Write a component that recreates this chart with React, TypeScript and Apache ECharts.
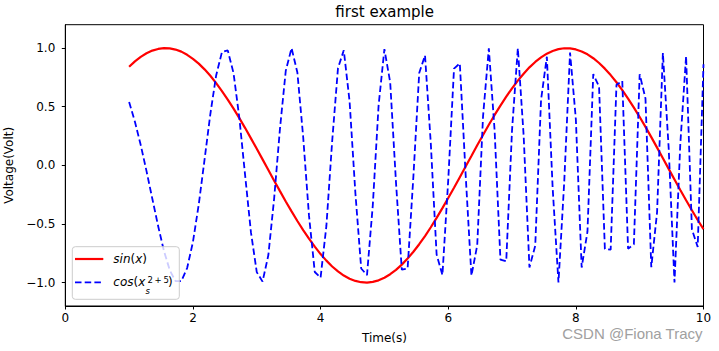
import React, { useEffect, useRef } from "react";
import * as echarts from "echarts";

// Time samples (s)
const timeValues = [
  1.0, 1.0909, 1.1818, 1.2727, 1.3636, 1.4545, 1.5455, 1.6364, 1.7273, 1.8182,
  1.9091, 2.0, 2.0909, 2.1818, 2.2727, 2.3636, 2.4545, 2.5455, 2.6364, 2.7273,
  2.8182, 2.9091, 3.0, 3.0909, 3.1818, 3.2727, 3.3636, 3.4545, 3.5455, 3.6364,
  3.7273, 3.8182, 3.9091, 4.0, 4.0909, 4.1818, 4.2727, 4.3636, 4.4545, 4.5455,
  4.6364, 4.7273, 4.8182, 4.9091, 5.0, 5.0909, 5.1818, 5.2727, 5.3636, 5.4545,
  5.5455, 5.6364, 5.7273, 5.8182, 5.9091, 6.0, 6.0909, 6.1818, 6.2727, 6.3636,
  6.4545, 6.5455, 6.6364, 6.7273, 6.8182, 6.9091, 7.0, 7.0909, 7.1818, 7.2727,
  7.3636, 7.4545, 7.5455, 7.6364, 7.7273, 7.8182, 7.9091, 8.0, 8.0909, 8.1818,
  8.2727, 8.3636, 8.4545, 8.5455, 8.6364, 8.7273, 8.8182, 8.9091, 9.0, 9.0909,
  9.1818, 9.2727, 9.3636, 9.4545, 9.5455, 9.6364, 9.7273, 9.8182, 9.9091, 10.0,
];

// Red solid curve: sin(x)
const sinValues = [
  0.841, 0.887, 0.925, 0.956, 0.979, 0.993, 1.0, 0.998, 0.988, 0.97,
  0.943, 0.909, 0.868, 0.819, 0.764, 0.702, 0.634, 0.561, 0.484, 0.403,
  0.318, 0.23, 0.141, 0.051, -0.04, -0.131, -0.22, -0.308, -0.393, -0.475,
  -0.553, -0.626, -0.694, -0.757, -0.813, -0.863, -0.905, -0.94, -0.967, -0.986,
  -0.997, -1.0, -0.994, -0.981, -0.959, -0.929, -0.892, -0.847, -0.795, -0.737,
  -0.673, -0.603, -0.528, -0.448, -0.365, -0.279, -0.191, -0.101, -0.01, 0.08,
  0.171, 0.259, 0.346, 0.43, 0.51, 0.586, 0.657, 0.723, 0.782, 0.836,
  0.882, 0.921, 0.953, 0.976, 0.992, 0.999, 0.998, 0.989, 0.972, 0.947,
  0.914, 0.873, 0.825, 0.77, 0.709, 0.642, 0.57, 0.493, 0.412, 0.328,
  0.241, 0.151, 0.061, -0.03, -0.12, -0.21, -0.298, -0.383, -0.466, -0.544,
];

// Blue dashed curve
const cosValues = [
  0.54, 0.372, 0.173, -0.049, -0.285, -0.518, -0.73, -0.894, -0.988, -0.987,
  -0.876, -0.654, -0.334, 0.048, 0.438, 0.767, 0.967, 0.981, 0.786, 0.404,
  -0.088, -0.572, -0.911, -0.992, -0.765, -0.281, 0.313, 0.807, 1.0, 0.792,
  0.242, -0.427, -0.91, -0.958, -0.517, 0.207, 0.829, 0.982, 0.546, -0.238,
  -0.88, -0.937, -0.34, 0.512, 0.991, 0.708, -0.147, -0.89, -0.88, -0.093,
  0.788, 0.938, 0.184, -0.761, -0.936, -0.128, 0.825, 0.87, -0.077, -0.941,
  -0.682, 0.418, 0.998, 0.293, -0.804, -0.819, 0.301, 1.0, 0.255, -0.871,
  -0.685, 0.558, 0.927, -0.193, -1.0, -0.137, 0.962, 0.392, -0.872, -0.566,
  0.779, 0.671, -0.713, -0.719, 0.688, 0.72, -0.711, -0.673, 0.777, 0.571,
  -0.869, -0.399, 0.959, 0.146, -1.0, 0.182, 0.932, -0.546, -0.696, 0.862,
];

const xTicks = [0, 2, 4, 6, 8, 10];
const yTicks = [-1.0, -0.5, 0.0, 0.5, 1.0];

const titleText = "first example";
const xName = "Time(s)";
const yName = "Voltage(Volt)";
const watermark = "CSDN @Fiona Tracy";

const FONT = "DejaVu Sans";

export default function App() {
  const ref = useRef<HTMLDivElement>(null);

  useEffect(() => {
    if (!ref.current) return;
    const chart = echarts.init(ref.current, null, { renderer: "svg" });

    const sinData = timeValues.map((t, i) => [t, sinValues[i]]);
    const cosData = timeValues.map((t, i) => [t, cosValues[i]]);

    const option: any = {
      animation: false,
      backgroundColor: "#ffffff",
      textStyle: { fontFamily: FONT },
      grid: {
        left: 65.3,
        right: 15.5,
        top: 24.7,
        bottom: 45,
        show: true,
        borderColor: "#000",
        borderWidth: 1,
        backgroundColor: "transparent",
        containLabel: false,
        outerBoundsMode: "none",
      },
      xAxis: {
        type: "value",
        min: xTicks[0],
        max: xTicks[xTicks.length - 1],
        interval: 2,
        name: xName,
        nameLocation: "middle",
        nameGap: 26,
        nameTextStyle: { color: "#000", fontSize: 12, fontFamily: FONT },
        axisLine: { show: true, onZero: false, lineStyle: { color: "#000", width: 1 } },
        axisTick: { show: true, inside: false, length: 3.5, lineStyle: { color: "#000", width: 1 } },
        axisLabel: { color: "#000", fontSize: 12, fontFamily: FONT, margin: 6 },
        splitLine: { show: false },
      },
      yAxis: {
        type: "value",
        min: -1.2,
        max: 1.2,
        name: yName,
        nameLocation: "middle",
        nameGap: 41,
        nameRotate: 90,
        nameTextStyle: { color: "#000", fontSize: 12, fontFamily: FONT },
        axisLine: { show: true, onZero: false, lineStyle: { color: "#000", width: 1 } },
        axisTick: {
          show: true,
          inside: false,
          length: 3.5,
          customValues: yTicks,
          lineStyle: { color: "#000", width: 1 },
        },
        axisLabel: {
          color: "#000",
          fontSize: 12,
          fontFamily: FONT,
          margin: 10,
          customValues: yTicks,
          formatter: (v: number) => (v < 0 ? "\u2212" : "") + Math.abs(v).toFixed(1),
        },
        splitLine: { show: false },
      },
      series: [
        {
          name: "sin(x)",
          type: "line",
          data: sinData,
          symbol: "none",
          clip: true,
          lineStyle: { color: "#ff0000", width: 2.2 },
          itemStyle: { color: "#ff0000" },
          z: 2,
        },
        {
          name: "cos",
          type: "line",
          data: cosData,
          symbol: "none",
          clip: true,
          lineStyle: { color: "#0000ff", width: 1.8, type: [6.5, 3.2] },
          itemStyle: { color: "#0000ff" },
          z: 3,
        },
      ],
      graphic: [
        {
          type: "text",
          x: 384.7,
          y: 12,
          z: 100,
          style: {
            text: titleText,
            fontSize: 15,
            fontFamily: FONT,
            fill: "#000",
            align: "center",
            verticalAlign: "middle",
          },
        },
        {
          type: "rect",
          z: 100,
          shape: { x: 72.3, y: 246.7, width: 107, height: 52.6, r: 3 },
          style: { fill: "rgba(255,255,255,0.8)", stroke: "#cccccc", lineWidth: 1 },
        },
        {
          type: "line",
          z: 101,
          shape: { x1: 75, y1: 259, x2: 103.3, y2: 259 },
          style: { stroke: "#ff0000", lineWidth: 2.2 },
        },
        {
          type: "line",
          z: 101,
          shape: { x1: 75, y1: 282.3, x2: 103.3, y2: 282.3 },
          style: { stroke: "#0000ff", lineWidth: 1.8, lineDash: [6.5, 3.2] },
        },
        {
          type: "text",
          z: 101,
          x: 113.3,
          y: 259,
          style: {
            text: "{i|sin}{n|(}{i|x}{n|)}",
            verticalAlign: "middle",
            align: "left",
            rich: {
              i: { fontSize: 12, fontFamily: FONT, fontStyle: "italic", fill: "#000" },
              n: { fontSize: 12, fontFamily: FONT, fill: "#000" },
            },
          },
        },
        {
          type: "text",
          z: 101,
          x: 113.3,
          y: 282.3,
          style: {
            text: "{i|cos}{n|(}{i|x}",
            verticalAlign: "middle",
            align: "left",
            rich: {
              i: { fontSize: 12, fontFamily: FONT, fontStyle: "italic", fill: "#000" },
              n: { fontSize: 12, fontFamily: FONT, fill: "#000" },
            },
          },
        },
        {
          type: "text",
          z: 101,
          x: 145.4,
          y: 291,
          style: {
            text: "s",
            fontSize: 8.5,
            fontFamily: FONT,
            fontStyle: "italic",
            fill: "#000",
            verticalAlign: "middle",
            align: "left",
          },
        },
        {
          type: "text",
          z: 101,
          x: 147.5,
          y: 279.5,
          style: {
            text: "2\u2009+\u20095",
            fontSize: 8.5,
            fontFamily: FONT,
            fill: "#000",
            verticalAlign: "middle",
            align: "left",
          },
        },
        {
          type: "text",
          z: 101,
          x: 168,
          y: 282.3,
          style: {
            text: ")",
            fontSize: 12,
            fontFamily: FONT,
            fill: "#000",
            verticalAlign: "middle",
            align: "left",
          },
        },
        {
          type: "text",
          z: 101,
          x: 702.5,
          y: 333,
          style: {
            text: watermark,
            fontSize: 15,
            fontFamily: "Liberation Sans",
            fill: "#a0a0a0",
            align: "right",
            verticalAlign: "middle",
          },
        },
      ],
    };

    chart.setOption(option);
    return () => {
      chart.dispose();
    };
  }, []);

  return (
    <div
      ref={ref}
      style={{ position: "fixed", left: 0, top: 0, width: 719, height: 351 }}
    />
  );
}
